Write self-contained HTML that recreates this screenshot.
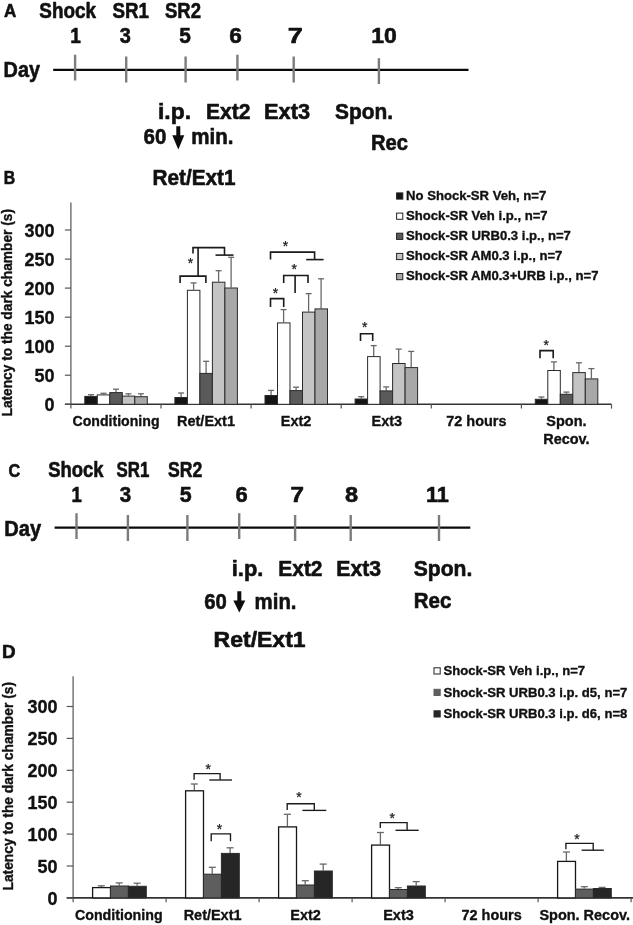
<!DOCTYPE html>
<html><head><meta charset="utf-8"><title>Figure</title>
<style>
html,body{margin:0;padding:0;background:#fff;}
svg{display:block;}
text{font-family:"Liberation Sans",sans-serif;font-weight:bold;stroke:#111;stroke-width:0.35px;stroke-linejoin:round;}
.tl text{stroke-width:0.6px;}
text.st{stroke-width:0.25px;font-weight:normal;}
</style></head><body>
<svg width="633" height="925" viewBox="0 0 633 925">
<rect width="633" height="925" fill="#fff"/>
<g class="tl">
<text x="3.9" y="16.8" font-size="18" textLength="12.3" lengthAdjust="spacingAndGlyphs" fill="#111">A</text>
<text x="39.3" y="17.8" font-size="22" textLength="56.7" lengthAdjust="spacingAndGlyphs" fill="#111">Shock</text>
<text x="112.5" y="17.8" font-size="22" textLength="36.5" lengthAdjust="spacingAndGlyphs" fill="#111">SR1</text>
<text x="165.0" y="17.8" font-size="22" textLength="36.0" lengthAdjust="spacingAndGlyphs" fill="#111">SR2</text>
<text x="70.2" y="42.8" font-size="22" textLength="10.6" lengthAdjust="spacingAndGlyphs" fill="#111">1</text>
<text x="119.7" y="42.8" font-size="22" textLength="11.1" lengthAdjust="spacingAndGlyphs" fill="#111">3</text>
<text x="179.2" y="42.8" font-size="22" textLength="11.6" lengthAdjust="spacingAndGlyphs" fill="#111">5</text>
<text x="229.2" y="42.8" font-size="22" textLength="12.6" lengthAdjust="spacingAndGlyphs" fill="#111">6</text>
<text x="287.7" y="42.8" font-size="22" textLength="15.1" lengthAdjust="spacingAndGlyphs" fill="#111">7</text>
<text x="371.2" y="42.8" font-size="22" textLength="25.6" lengthAdjust="spacingAndGlyphs" fill="#111">10</text>
<text x="3.6" y="77.0" font-size="22" textLength="36.4" lengthAdjust="spacingAndGlyphs" fill="#111">Day</text>
<line x1="53.2" y1="69.8" x2="468.5" y2="69.8" stroke="#0a0a0a" stroke-width="2.2"/>
<line x1="75.1" y1="54.7" x2="75.1" y2="80.5" stroke="#7c7c7c" stroke-width="2.4"/>
<line x1="126.2" y1="56.5" x2="126.2" y2="82.5" stroke="#7c7c7c" stroke-width="2.4"/>
<line x1="185.6" y1="56.5" x2="185.6" y2="82.5" stroke="#7c7c7c" stroke-width="2.4"/>
<line x1="237.4" y1="54.7" x2="237.4" y2="80.5" stroke="#7c7c7c" stroke-width="2.4"/>
<line x1="293.7" y1="56.5" x2="293.7" y2="82.5" stroke="#7c7c7c" stroke-width="2.4"/>
<line x1="378.9" y1="58.2" x2="378.9" y2="84.0" stroke="#7c7c7c" stroke-width="2.4"/>
<text x="158.0" y="118.7" font-size="22" textLength="33.0" lengthAdjust="spacingAndGlyphs" fill="#111">i.p.</text>
<text x="206.0" y="118.7" font-size="22" textLength="44.4" lengthAdjust="spacingAndGlyphs" fill="#111">Ext2</text>
<text x="264.0" y="118.7" font-size="22" textLength="46.0" lengthAdjust="spacingAndGlyphs" fill="#111">Ext3</text>
<text x="335.0" y="118.7" font-size="22" textLength="58.0" lengthAdjust="spacingAndGlyphs" fill="#111">Spon.</text>
<text x="143.5" y="144.0" font-size="22" textLength="22.8" lengthAdjust="spacingAndGlyphs" fill="#111">60</text>
<text x="191.2" y="144.0" font-size="22" textLength="42.2" lengthAdjust="spacingAndGlyphs" fill="#111">min.</text>
<text x="371.0" y="149.7" font-size="22" textLength="37.0" lengthAdjust="spacingAndGlyphs" fill="#111">Rec</text>
<text x="152.5" y="185.0" font-size="22" textLength="83.0" lengthAdjust="spacingAndGlyphs" fill="#111">Ret/Ext1</text>
<text x="3.8" y="184.2" font-size="18" textLength="11.4" lengthAdjust="spacingAndGlyphs" fill="#111">B</text>
<path d="M176.3 126.3 H180.3 V135.2 H184.3 L178.3 149.6 L172.3 135.2 H176.3 Z" fill="#0c0c0c"/>
<text x="8.4" y="476.8" font-size="18" textLength="11.7" lengthAdjust="spacingAndGlyphs" fill="#111">C</text>
<text x="48.2" y="476.9" font-size="22" textLength="55.3" lengthAdjust="spacingAndGlyphs" fill="#111">Shock</text>
<text x="116.5" y="476.9" font-size="22" textLength="32.8" lengthAdjust="spacingAndGlyphs" fill="#111">SR1</text>
<text x="167.9" y="476.9" font-size="22" textLength="34.3" lengthAdjust="spacingAndGlyphs" fill="#111">SR2</text>
<text x="71.5" y="501.5" font-size="22" textLength="10.3" lengthAdjust="spacingAndGlyphs" fill="#111">1</text>
<text x="119.7" y="501.5" font-size="22" textLength="11.4" lengthAdjust="spacingAndGlyphs" fill="#111">3</text>
<text x="179.7" y="501.5" font-size="22" textLength="11.9" lengthAdjust="spacingAndGlyphs" fill="#111">5</text>
<text x="235.4" y="501.5" font-size="22" textLength="12.2" lengthAdjust="spacingAndGlyphs" fill="#111">6</text>
<text x="290.4" y="501.5" font-size="22" textLength="13.5" lengthAdjust="spacingAndGlyphs" fill="#111">7</text>
<text x="344.9" y="501.5" font-size="22" textLength="13.1" lengthAdjust="spacingAndGlyphs" fill="#111">8</text>
<text x="425.9" y="501.5" font-size="22" textLength="22.9" lengthAdjust="spacingAndGlyphs" fill="#111">11</text>
<text x="4.2" y="535.7" font-size="22" textLength="36.9" lengthAdjust="spacingAndGlyphs" fill="#111">Day</text>
<line x1="54.6" y1="527.6" x2="470.3" y2="527.6" stroke="#0a0a0a" stroke-width="2.2"/>
<line x1="76.5" y1="513.2" x2="76.5" y2="539.0" stroke="#7c7c7c" stroke-width="2.4"/>
<line x1="127.9" y1="515.0" x2="127.9" y2="541.0" stroke="#7c7c7c" stroke-width="2.4"/>
<line x1="187.4" y1="515.0" x2="187.4" y2="541.0" stroke="#7c7c7c" stroke-width="2.4"/>
<line x1="239.2" y1="513.2" x2="239.2" y2="539.0" stroke="#7c7c7c" stroke-width="2.4"/>
<line x1="295.1" y1="515.0" x2="295.1" y2="541.0" stroke="#7c7c7c" stroke-width="2.4"/>
<line x1="350.7" y1="515.0" x2="350.7" y2="541.0" stroke="#7c7c7c" stroke-width="2.4"/>
<line x1="439.0" y1="515.0" x2="439.0" y2="541.0" stroke="#7c7c7c" stroke-width="2.4"/>
<text x="231.8" y="575.9" font-size="22" textLength="31.5" lengthAdjust="spacingAndGlyphs" fill="#111">i.p.</text>
<text x="278.3" y="575.9" font-size="22" textLength="44.2" lengthAdjust="spacingAndGlyphs" fill="#111">Ext2</text>
<text x="336.3" y="575.9" font-size="22" textLength="44.8" lengthAdjust="spacingAndGlyphs" fill="#111">Ext3</text>
<text x="413.7" y="575.9" font-size="22" textLength="58.6" lengthAdjust="spacingAndGlyphs" fill="#111">Spon.</text>
<text x="204.2" y="608.7" font-size="22" textLength="22.6" lengthAdjust="spacingAndGlyphs" fill="#111">60</text>
<text x="254.6" y="608.7" font-size="22" textLength="41.9" lengthAdjust="spacingAndGlyphs" fill="#111">min.</text>
<text x="413.7" y="608.0" font-size="22" textLength="37.6" lengthAdjust="spacingAndGlyphs" fill="#111">Rec</text>
<text x="213.6" y="646.6" font-size="22" textLength="92.0" lengthAdjust="spacingAndGlyphs" fill="#111">Ret/Ext1</text>
<text x="2.0" y="657.8" font-size="18" textLength="13.6" lengthAdjust="spacingAndGlyphs" fill="#111">D</text>
<path d="M237.3 591.3 H241.3 V600.5 H245.3 L239.3 612.4 L233.3 600.5 H237.3 Z" fill="#0c0c0c"/>
</g>
<line x1="70.9" y1="202.6" x2="70.9" y2="404.8" stroke="#555" stroke-width="1.2"/>
<line x1="64.9" y1="404.3" x2="611.5" y2="404.3" stroke="#333" stroke-width="1.6"/>
<line x1="64.9" y1="404.3" x2="70.9" y2="404.3" stroke="#555" stroke-width="1.2"/>
<text x="44.5" y="410.9" font-size="17.5" textLength="10.0" lengthAdjust="spacingAndGlyphs" fill="#111">0</text>
<line x1="64.9" y1="375.2" x2="70.9" y2="375.2" stroke="#555" stroke-width="1.2"/>
<text x="34.5" y="381.9" font-size="17.5" textLength="20.0" lengthAdjust="spacingAndGlyphs" fill="#111">50</text>
<line x1="64.9" y1="346.2" x2="70.9" y2="346.2" stroke="#555" stroke-width="1.2"/>
<text x="24.5" y="352.8" font-size="17.5" textLength="30.0" lengthAdjust="spacingAndGlyphs" fill="#111">100</text>
<line x1="64.9" y1="317.2" x2="70.9" y2="317.2" stroke="#555" stroke-width="1.2"/>
<text x="24.5" y="323.8" font-size="17.5" textLength="30.0" lengthAdjust="spacingAndGlyphs" fill="#111">150</text>
<line x1="64.9" y1="288.1" x2="70.9" y2="288.1" stroke="#555" stroke-width="1.2"/>
<text x="24.5" y="294.7" font-size="17.5" textLength="30.0" lengthAdjust="spacingAndGlyphs" fill="#111">200</text>
<line x1="64.9" y1="259.1" x2="70.9" y2="259.1" stroke="#555" stroke-width="1.2"/>
<text x="24.5" y="265.7" font-size="17.5" textLength="30.0" lengthAdjust="spacingAndGlyphs" fill="#111">250</text>
<line x1="64.9" y1="230.0" x2="70.9" y2="230.0" stroke="#555" stroke-width="1.2"/>
<text x="24.5" y="236.6" font-size="17.5" textLength="30.0" lengthAdjust="spacingAndGlyphs" fill="#111">300</text>
<line x1="70.9" y1="404.3" x2="70.9" y2="408.6" stroke="#555" stroke-width="1.2"/>
<line x1="161.0" y1="404.3" x2="161.0" y2="408.6" stroke="#555" stroke-width="1.2"/>
<line x1="251.1" y1="404.3" x2="251.1" y2="408.6" stroke="#555" stroke-width="1.2"/>
<line x1="341.2" y1="404.3" x2="341.2" y2="408.6" stroke="#555" stroke-width="1.2"/>
<line x1="431.3" y1="404.3" x2="431.3" y2="408.6" stroke="#555" stroke-width="1.2"/>
<line x1="521.4" y1="404.3" x2="521.4" y2="408.6" stroke="#555" stroke-width="1.2"/>
<line x1="611.5" y1="404.3" x2="611.5" y2="408.6" stroke="#555" stroke-width="1.2"/>
<line x1="91.0" y1="395.9" x2="91.0" y2="394.7" stroke="#686868" stroke-width="1.3"/>
<line x1="88.0" y1="394.7" x2="94.0" y2="394.7" stroke="#686868" stroke-width="1.3"/>
<rect x="84.8" y="396.4" width="12.5" height="7.9" fill="#151515" stroke="#2a2a2a" stroke-width="1"/>
<line x1="103.5" y1="394.4" x2="103.5" y2="393.3" stroke="#686868" stroke-width="1.3"/>
<line x1="100.5" y1="393.3" x2="106.5" y2="393.3" stroke="#686868" stroke-width="1.3"/>
<rect x="97.3" y="394.9" width="12.5" height="9.4" fill="#ffffff" stroke="#2a2a2a" stroke-width="1"/>
<line x1="116.0" y1="392.1" x2="116.0" y2="389.2" stroke="#686868" stroke-width="1.3"/>
<line x1="113.0" y1="389.2" x2="119.0" y2="389.2" stroke="#686868" stroke-width="1.3"/>
<rect x="109.8" y="392.6" width="12.5" height="11.7" fill="#5a5a5a" stroke="#2a2a2a" stroke-width="1"/>
<line x1="128.4" y1="395.6" x2="128.4" y2="393.8" stroke="#686868" stroke-width="1.3"/>
<line x1="125.4" y1="393.8" x2="131.4" y2="393.8" stroke="#686868" stroke-width="1.3"/>
<rect x="122.3" y="396.1" width="12.5" height="8.2" fill="#c4c4c4" stroke="#2a2a2a" stroke-width="1"/>
<line x1="140.9" y1="396.2" x2="140.9" y2="393.8" stroke="#686868" stroke-width="1.3"/>
<line x1="137.9" y1="393.8" x2="143.9" y2="393.8" stroke="#686868" stroke-width="1.3"/>
<rect x="134.8" y="396.7" width="12.5" height="7.6" fill="#a8a8a8" stroke="#2a2a2a" stroke-width="1"/>
<line x1="181.1" y1="397.0" x2="181.1" y2="393.0" stroke="#686868" stroke-width="1.3"/>
<line x1="178.1" y1="393.0" x2="184.1" y2="393.0" stroke="#686868" stroke-width="1.3"/>
<rect x="174.9" y="397.5" width="12.5" height="6.8" fill="#151515" stroke="#2a2a2a" stroke-width="1"/>
<line x1="193.6" y1="289.8" x2="193.6" y2="282.9" stroke="#686868" stroke-width="1.3"/>
<line x1="190.6" y1="282.9" x2="196.6" y2="282.9" stroke="#686868" stroke-width="1.3"/>
<rect x="187.4" y="290.3" width="12.5" height="114.0" fill="#ffffff" stroke="#2a2a2a" stroke-width="1"/>
<line x1="206.1" y1="372.9" x2="206.1" y2="361.3" stroke="#686868" stroke-width="1.3"/>
<line x1="203.1" y1="361.3" x2="209.1" y2="361.3" stroke="#686868" stroke-width="1.3"/>
<rect x="199.9" y="373.4" width="12.5" height="30.9" fill="#5a5a5a" stroke="#2a2a2a" stroke-width="1"/>
<line x1="218.6" y1="281.7" x2="218.6" y2="270.7" stroke="#686868" stroke-width="1.3"/>
<line x1="215.6" y1="270.7" x2="221.6" y2="270.7" stroke="#686868" stroke-width="1.3"/>
<rect x="212.4" y="282.2" width="12.5" height="122.1" fill="#c4c4c4" stroke="#2a2a2a" stroke-width="1"/>
<line x1="231.1" y1="287.5" x2="231.1" y2="257.3" stroke="#686868" stroke-width="1.3"/>
<line x1="228.1" y1="257.3" x2="234.1" y2="257.3" stroke="#686868" stroke-width="1.3"/>
<rect x="224.9" y="288.0" width="12.5" height="116.3" fill="#a8a8a8" stroke="#2a2a2a" stroke-width="1"/>
<line x1="271.1" y1="395.0" x2="271.1" y2="390.4" stroke="#686868" stroke-width="1.3"/>
<line x1="268.1" y1="390.4" x2="274.1" y2="390.4" stroke="#686868" stroke-width="1.3"/>
<rect x="265.0" y="395.5" width="12.5" height="8.8" fill="#151515" stroke="#2a2a2a" stroke-width="1"/>
<line x1="283.6" y1="322.4" x2="283.6" y2="309.6" stroke="#686868" stroke-width="1.3"/>
<line x1="280.6" y1="309.6" x2="286.6" y2="309.6" stroke="#686868" stroke-width="1.3"/>
<rect x="277.5" y="322.9" width="12.5" height="81.4" fill="#ffffff" stroke="#2a2a2a" stroke-width="1"/>
<line x1="296.1" y1="390.1" x2="296.1" y2="387.2" stroke="#686868" stroke-width="1.3"/>
<line x1="293.1" y1="387.2" x2="299.1" y2="387.2" stroke="#686868" stroke-width="1.3"/>
<rect x="290.0" y="390.6" width="12.5" height="13.7" fill="#5a5a5a" stroke="#2a2a2a" stroke-width="1"/>
<line x1="308.6" y1="311.6" x2="308.6" y2="293.6" stroke="#686868" stroke-width="1.3"/>
<line x1="305.6" y1="293.6" x2="311.6" y2="293.6" stroke="#686868" stroke-width="1.3"/>
<rect x="302.5" y="312.1" width="12.5" height="92.2" fill="#c4c4c4" stroke="#2a2a2a" stroke-width="1"/>
<line x1="321.1" y1="308.4" x2="321.1" y2="278.8" stroke="#686868" stroke-width="1.3"/>
<line x1="318.1" y1="278.8" x2="324.1" y2="278.8" stroke="#686868" stroke-width="1.3"/>
<rect x="315.0" y="308.9" width="12.5" height="95.4" fill="#a8a8a8" stroke="#2a2a2a" stroke-width="1"/>
<line x1="361.2" y1="398.5" x2="361.2" y2="396.7" stroke="#686868" stroke-width="1.3"/>
<line x1="358.2" y1="396.7" x2="364.2" y2="396.7" stroke="#686868" stroke-width="1.3"/>
<rect x="355.1" y="399.0" width="12.5" height="5.3" fill="#151515" stroke="#2a2a2a" stroke-width="1"/>
<line x1="373.7" y1="356.1" x2="373.7" y2="345.6" stroke="#686868" stroke-width="1.3"/>
<line x1="370.7" y1="345.6" x2="376.7" y2="345.6" stroke="#686868" stroke-width="1.3"/>
<rect x="367.6" y="356.6" width="12.5" height="47.7" fill="#ffffff" stroke="#2a2a2a" stroke-width="1"/>
<line x1="386.2" y1="390.4" x2="386.2" y2="386.9" stroke="#686868" stroke-width="1.3"/>
<line x1="383.2" y1="386.9" x2="389.2" y2="386.9" stroke="#686868" stroke-width="1.3"/>
<rect x="380.1" y="390.9" width="12.5" height="13.4" fill="#5a5a5a" stroke="#2a2a2a" stroke-width="1"/>
<line x1="398.7" y1="363.0" x2="398.7" y2="349.1" stroke="#686868" stroke-width="1.3"/>
<line x1="395.7" y1="349.1" x2="401.7" y2="349.1" stroke="#686868" stroke-width="1.3"/>
<rect x="392.6" y="363.5" width="12.5" height="40.8" fill="#c4c4c4" stroke="#2a2a2a" stroke-width="1"/>
<line x1="411.2" y1="367.1" x2="411.2" y2="351.4" stroke="#686868" stroke-width="1.3"/>
<line x1="408.2" y1="351.4" x2="414.2" y2="351.4" stroke="#686868" stroke-width="1.3"/>
<rect x="405.1" y="367.6" width="12.5" height="36.7" fill="#a8a8a8" stroke="#2a2a2a" stroke-width="1"/>
<line x1="541.4" y1="398.8" x2="541.4" y2="397.0" stroke="#686868" stroke-width="1.3"/>
<line x1="538.4" y1="397.0" x2="544.4" y2="397.0" stroke="#686868" stroke-width="1.3"/>
<rect x="535.3" y="399.3" width="12.5" height="5.0" fill="#151515" stroke="#2a2a2a" stroke-width="1"/>
<line x1="553.9" y1="370.0" x2="553.9" y2="361.9" stroke="#686868" stroke-width="1.3"/>
<line x1="550.9" y1="361.9" x2="556.9" y2="361.9" stroke="#686868" stroke-width="1.3"/>
<rect x="547.8" y="370.5" width="12.5" height="33.8" fill="#ffffff" stroke="#2a2a2a" stroke-width="1"/>
<line x1="566.4" y1="393.8" x2="566.4" y2="392.1" stroke="#686868" stroke-width="1.3"/>
<line x1="563.4" y1="392.1" x2="569.4" y2="392.1" stroke="#686868" stroke-width="1.3"/>
<rect x="560.3" y="394.3" width="12.5" height="10.0" fill="#5a5a5a" stroke="#2a2a2a" stroke-width="1"/>
<line x1="578.9" y1="372.1" x2="578.9" y2="362.8" stroke="#686868" stroke-width="1.3"/>
<line x1="575.9" y1="362.8" x2="581.9" y2="362.8" stroke="#686868" stroke-width="1.3"/>
<rect x="572.8" y="372.6" width="12.5" height="31.7" fill="#c4c4c4" stroke="#2a2a2a" stroke-width="1"/>
<line x1="591.4" y1="378.4" x2="591.4" y2="368.6" stroke="#686868" stroke-width="1.3"/>
<line x1="588.4" y1="368.6" x2="594.4" y2="368.6" stroke="#686868" stroke-width="1.3"/>
<rect x="585.3" y="378.9" width="12.5" height="25.4" fill="#a8a8a8" stroke="#2a2a2a" stroke-width="1"/>
<path d="M180.1 283.0 L180.1 276.1 L205.9 276.1 L205.9 283.0" fill="none" stroke="#1a1a1a" stroke-width="1.6"/>
<path d="M198.1 276.1 L198.1 247.6" fill="none" stroke="#1a1a1a" stroke-width="1.6"/>
<path d="M193.0 253.6 L193.0 247.6 L224.5 247.6 L224.5 255.1" fill="none" stroke="#1a1a1a" stroke-width="1.6"/>
<path d="M215.5 255.1 L233.5 255.1" fill="none" stroke="#1a1a1a" stroke-width="1.6"/>
<text x="190.6" y="268.4" font-size="14" text-anchor="middle" fill="#222" class="st">*</text>
<path d="M270.5 307.0 L270.5 298.6 L283.7 298.6 L283.7 307.0" fill="none" stroke="#1a1a1a" stroke-width="1.6"/>
<text x="275.6" y="297.8" font-size="14" text-anchor="middle" fill="#222" class="st">*</text>
<path d="M283.7 283.0 L283.7 275.5 L308.0 275.5 L308.0 283.0" fill="none" stroke="#1a1a1a" stroke-width="1.6"/>
<path d="M295.1 275.5 L295.1 293.0" fill="none" stroke="#1a1a1a" stroke-width="1.6"/>
<text x="294.2" y="273.8" font-size="14" text-anchor="middle" fill="#222" class="st">*</text>
<path d="M270.5 259.6 L270.5 252.1 L314.6 252.1 L314.6 259.6" fill="none" stroke="#1a1a1a" stroke-width="1.6"/>
<path d="M306.2 259.6 L323.6 259.6" fill="none" stroke="#1a1a1a" stroke-width="1.6"/>
<text x="285.5" y="251.0" font-size="14" text-anchor="middle" fill="#222" class="st">*</text>
<path d="M360.5 340.9 L360.5 333.8 L372.7 333.8 L372.7 340.9" fill="none" stroke="#1a1a1a" stroke-width="1.6"/>
<text x="364.7" y="332.4" font-size="14" text-anchor="middle" fill="#222" class="st">*</text>
<path d="M540.0 358.2 L540.0 350.6 L553.2 350.6 L553.2 358.2" fill="none" stroke="#1a1a1a" stroke-width="1.6"/>
<text x="546.3" y="350.0" font-size="14" text-anchor="middle" fill="#222" class="st">*</text>
<text x="116.0" y="426.1" font-size="15" text-anchor="middle" textLength="87.0" lengthAdjust="spacingAndGlyphs" fill="#111">Conditioning</text>
<text x="206.0" y="426.1" font-size="15" text-anchor="middle" textLength="57.9" lengthAdjust="spacingAndGlyphs" fill="#111">Ret/Ext1</text>
<text x="296.1" y="426.1" font-size="15" text-anchor="middle" textLength="30.6" lengthAdjust="spacingAndGlyphs" fill="#111">Ext2</text>
<text x="386.8" y="426.1" font-size="15" text-anchor="middle" textLength="30.6" lengthAdjust="spacingAndGlyphs" fill="#111">Ext3</text>
<text x="476.4" y="426.1" font-size="15" text-anchor="middle" textLength="60.3" lengthAdjust="spacingAndGlyphs" fill="#111">72 hours</text>
<text x="566.4" y="426.1" font-size="15" text-anchor="middle" textLength="40.2" lengthAdjust="spacingAndGlyphs" fill="#111">Spon.</text>
<text x="566.4" y="443.5" font-size="15" text-anchor="middle" textLength="46.4" lengthAdjust="spacingAndGlyphs" fill="#111">Recov.</text>
<text transform="translate(12.3,416.5) rotate(-90)" font-size="13.8" textLength="207.5" lengthAdjust="spacingAndGlyphs" fill="#111">Latency to the dark chamber (s)</text>
<rect x="396.6" y="192.9" width="6.2" height="6.2" fill="#151515" stroke="#222" stroke-width="1"/>
<text x="406.1" y="199.6" font-size="13.1" fill="#111">No Shock-SR Veh, n=7</text>
<rect x="396.6" y="213.1" width="6.2" height="6.2" fill="#fff" stroke="#222" stroke-width="1"/>
<text x="406.1" y="219.8" font-size="13.1" fill="#111">Shock-SR Veh i.p., n=7</text>
<rect x="396.6" y="233.2" width="6.2" height="6.2" fill="#5a5a5a" stroke="#222" stroke-width="1"/>
<text x="406.1" y="239.9" font-size="13.1" fill="#111">Shock-SR URB0.3 i.p., n=7</text>
<rect x="396.6" y="253.4" width="6.2" height="6.2" fill="#c4c4c4" stroke="#222" stroke-width="1"/>
<text x="406.1" y="260.1" font-size="13.1" fill="#111">Shock-SR AM0.3 i.p., n=7</text>
<rect x="396.6" y="273.5" width="6.2" height="6.2" fill="#a8a8a8" stroke="#222" stroke-width="1"/>
<text x="406.1" y="280.2" font-size="13.1" fill="#111">Shock-SR AM0.3+URB i.p., n=7</text>
<line x1="73.1" y1="676.2" x2="73.1" y2="898.4" stroke="#555" stroke-width="1.2"/>
<line x1="66.7" y1="897.9" x2="633.0" y2="897.9" stroke="#333" stroke-width="1.6"/>
<line x1="66.7" y1="897.9" x2="73.1" y2="897.9" stroke="#555" stroke-width="1.2"/>
<text x="47.4" y="904.5" font-size="17.5" textLength="10.0" lengthAdjust="spacingAndGlyphs" fill="#111">0</text>
<line x1="66.7" y1="866.0" x2="73.1" y2="866.0" stroke="#555" stroke-width="1.2"/>
<text x="37.4" y="872.6" font-size="17.5" textLength="20.0" lengthAdjust="spacingAndGlyphs" fill="#111">50</text>
<line x1="66.7" y1="834.1" x2="73.1" y2="834.1" stroke="#555" stroke-width="1.2"/>
<text x="27.4" y="840.7" font-size="17.5" textLength="30.0" lengthAdjust="spacingAndGlyphs" fill="#111">100</text>
<line x1="66.7" y1="802.2" x2="73.1" y2="802.2" stroke="#555" stroke-width="1.2"/>
<text x="27.4" y="808.8" font-size="17.5" textLength="30.0" lengthAdjust="spacingAndGlyphs" fill="#111">150</text>
<line x1="66.7" y1="770.3" x2="73.1" y2="770.3" stroke="#555" stroke-width="1.2"/>
<text x="27.4" y="776.9" font-size="17.5" textLength="30.0" lengthAdjust="spacingAndGlyphs" fill="#111">200</text>
<line x1="66.7" y1="738.4" x2="73.1" y2="738.4" stroke="#555" stroke-width="1.2"/>
<text x="27.4" y="745.0" font-size="17.5" textLength="30.0" lengthAdjust="spacingAndGlyphs" fill="#111">250</text>
<line x1="66.7" y1="706.5" x2="73.1" y2="706.5" stroke="#555" stroke-width="1.2"/>
<text x="27.4" y="713.1" font-size="17.5" textLength="30.0" lengthAdjust="spacingAndGlyphs" fill="#111">300</text>
<line x1="73.1" y1="897.9" x2="73.1" y2="902.2" stroke="#555" stroke-width="1.2"/>
<line x1="166.1" y1="897.9" x2="166.1" y2="902.2" stroke="#555" stroke-width="1.2"/>
<line x1="259.1" y1="897.9" x2="259.1" y2="902.2" stroke="#555" stroke-width="1.2"/>
<line x1="352.1" y1="897.9" x2="352.1" y2="902.2" stroke="#555" stroke-width="1.2"/>
<line x1="445.1" y1="897.9" x2="445.1" y2="902.2" stroke="#555" stroke-width="1.2"/>
<line x1="538.1" y1="897.9" x2="538.1" y2="902.2" stroke="#555" stroke-width="1.2"/>
<line x1="631.1" y1="897.9" x2="631.1" y2="902.2" stroke="#555" stroke-width="1.2"/>
<line x1="101.3" y1="887.1" x2="101.3" y2="885.8" stroke="#686868" stroke-width="1.3"/>
<line x1="97.8" y1="885.8" x2="104.8" y2="885.8" stroke="#686868" stroke-width="1.3"/>
<rect x="92.6" y="887.6" width="17.9" height="10.3" fill="#ffffff" stroke="#161616" stroke-width="1.3"/>
<line x1="119.2" y1="885.5" x2="119.2" y2="882.9" stroke="#686868" stroke-width="1.3"/>
<line x1="115.7" y1="882.9" x2="122.7" y2="882.9" stroke="#686868" stroke-width="1.3"/>
<rect x="110.5" y="886.0" width="17.9" height="11.9" fill="#5e5e5e" stroke="#2a2a2a" stroke-width="1"/>
<line x1="137.1" y1="885.8" x2="137.1" y2="883.2" stroke="#686868" stroke-width="1.3"/>
<line x1="133.6" y1="883.2" x2="140.6" y2="883.2" stroke="#686868" stroke-width="1.3"/>
<rect x="128.4" y="886.3" width="17.9" height="11.6" fill="#262626" stroke="#2a2a2a" stroke-width="1"/>
<line x1="194.3" y1="790.3" x2="194.3" y2="784.0" stroke="#686868" stroke-width="1.3"/>
<line x1="190.8" y1="784.0" x2="197.8" y2="784.0" stroke="#686868" stroke-width="1.3"/>
<rect x="185.6" y="790.8" width="17.9" height="107.1" fill="#ffffff" stroke="#161616" stroke-width="1.3"/>
<line x1="212.2" y1="873.7" x2="212.2" y2="867.3" stroke="#686868" stroke-width="1.3"/>
<line x1="208.8" y1="867.3" x2="215.8" y2="867.3" stroke="#686868" stroke-width="1.3"/>
<rect x="203.5" y="874.2" width="17.9" height="23.7" fill="#5e5e5e" stroke="#2a2a2a" stroke-width="1"/>
<line x1="230.1" y1="852.9" x2="230.1" y2="847.8" stroke="#686868" stroke-width="1.3"/>
<line x1="226.6" y1="847.8" x2="233.6" y2="847.8" stroke="#686868" stroke-width="1.3"/>
<rect x="221.4" y="853.4" width="17.9" height="44.5" fill="#262626" stroke="#2a2a2a" stroke-width="1"/>
<line x1="287.4" y1="826.4" x2="287.4" y2="814.3" stroke="#686868" stroke-width="1.3"/>
<line x1="283.9" y1="814.3" x2="290.9" y2="814.3" stroke="#686868" stroke-width="1.3"/>
<rect x="278.6" y="826.9" width="17.9" height="71.0" fill="#ffffff" stroke="#161616" stroke-width="1.3"/>
<line x1="305.2" y1="884.5" x2="305.2" y2="880.7" stroke="#686868" stroke-width="1.3"/>
<line x1="301.8" y1="880.7" x2="308.8" y2="880.7" stroke="#686868" stroke-width="1.3"/>
<rect x="296.5" y="885.0" width="17.9" height="12.9" fill="#5e5e5e" stroke="#2a2a2a" stroke-width="1"/>
<line x1="323.2" y1="870.5" x2="323.2" y2="864.1" stroke="#686868" stroke-width="1.3"/>
<line x1="319.7" y1="864.1" x2="326.7" y2="864.1" stroke="#686868" stroke-width="1.3"/>
<rect x="314.4" y="871.0" width="17.9" height="26.9" fill="#262626" stroke="#2a2a2a" stroke-width="1"/>
<line x1="380.4" y1="844.6" x2="380.4" y2="832.5" stroke="#686868" stroke-width="1.3"/>
<line x1="376.9" y1="832.5" x2="383.9" y2="832.5" stroke="#686868" stroke-width="1.3"/>
<rect x="371.6" y="845.1" width="17.9" height="52.8" fill="#ffffff" stroke="#161616" stroke-width="1.3"/>
<line x1="398.2" y1="889.0" x2="398.2" y2="887.7" stroke="#686868" stroke-width="1.3"/>
<line x1="394.8" y1="887.7" x2="401.8" y2="887.7" stroke="#686868" stroke-width="1.3"/>
<rect x="389.5" y="889.5" width="17.9" height="8.4" fill="#5e5e5e" stroke="#2a2a2a" stroke-width="1"/>
<line x1="416.2" y1="885.5" x2="416.2" y2="881.6" stroke="#686868" stroke-width="1.3"/>
<line x1="412.7" y1="881.6" x2="419.7" y2="881.6" stroke="#686868" stroke-width="1.3"/>
<rect x="407.4" y="886.0" width="17.9" height="11.9" fill="#262626" stroke="#2a2a2a" stroke-width="1"/>
<line x1="566.4" y1="860.9" x2="566.4" y2="852.0" stroke="#686868" stroke-width="1.3"/>
<line x1="562.9" y1="852.0" x2="569.9" y2="852.0" stroke="#686868" stroke-width="1.3"/>
<rect x="557.6" y="861.4" width="17.9" height="36.5" fill="#ffffff" stroke="#161616" stroke-width="1.3"/>
<line x1="584.2" y1="888.6" x2="584.2" y2="886.7" stroke="#686868" stroke-width="1.3"/>
<line x1="580.8" y1="886.7" x2="587.8" y2="886.7" stroke="#686868" stroke-width="1.3"/>
<rect x="575.5" y="889.1" width="17.9" height="8.8" fill="#5e5e5e" stroke="#2a2a2a" stroke-width="1"/>
<line x1="602.1" y1="888.0" x2="602.1" y2="887.4" stroke="#686868" stroke-width="1.3"/>
<line x1="598.6" y1="887.4" x2="605.6" y2="887.4" stroke="#686868" stroke-width="1.3"/>
<rect x="593.4" y="888.5" width="17.9" height="9.4" fill="#262626" stroke="#2a2a2a" stroke-width="1"/>
<path d="M194.1 779.8 L194.1 773.6 L220.1 773.6 L220.1 779.8" fill="none" stroke="#1a1a1a" stroke-width="1.35"/>
<path d="M209.3 780.0 L232.0 780.0" fill="none" stroke="#1a1a1a" stroke-width="1.35"/>
<text x="208.2" y="773.7" font-size="14" text-anchor="middle" fill="#222" class="st">*</text>
<path d="M211.2 841.2 L211.2 833.9 L230.5 833.9 L230.5 841.2" fill="none" stroke="#1a1a1a" stroke-width="1.35"/>
<text x="219.5" y="833.6" font-size="14" text-anchor="middle" fill="#222" class="st">*</text>
<path d="M287.2 810.0 L287.2 803.7 L314.3 803.7 L314.3 810.3" fill="none" stroke="#1a1a1a" stroke-width="1.35"/>
<path d="M302.4 810.4 L326.3 810.4" fill="none" stroke="#1a1a1a" stroke-width="1.35"/>
<text x="299.1" y="802.4" font-size="14" text-anchor="middle" fill="#222" class="st">*</text>
<path d="M380.3 828.0 L380.3 822.6 L407.1 822.6 L407.1 830.3" fill="none" stroke="#1a1a1a" stroke-width="1.35"/>
<path d="M395.5 830.3 L418.7 830.3" fill="none" stroke="#1a1a1a" stroke-width="1.35"/>
<text x="392.3" y="822.8" font-size="14" text-anchor="middle" fill="#222" class="st">*</text>
<path d="M565.9 849.2 L565.9 843.4 L593.2 843.4 L593.2 850.2" fill="none" stroke="#1a1a1a" stroke-width="1.35"/>
<path d="M581.6 850.2 L603.8 850.2" fill="none" stroke="#1a1a1a" stroke-width="1.35"/>
<text x="577.0" y="843.6" font-size="14" text-anchor="middle" fill="#222" class="st">*</text>
<text x="118.8" y="920.0" font-size="15" text-anchor="middle" textLength="87.6" lengthAdjust="spacingAndGlyphs" fill="#111">Conditioning</text>
<text x="212.6" y="920.0" font-size="15" text-anchor="middle" textLength="57.9" lengthAdjust="spacingAndGlyphs" fill="#111">Ret/Ext1</text>
<text x="305.6" y="920.0" font-size="15" text-anchor="middle" textLength="30.6" lengthAdjust="spacingAndGlyphs" fill="#111">Ext2</text>
<text x="398.5" y="920.0" font-size="15" text-anchor="middle" textLength="30.6" lengthAdjust="spacingAndGlyphs" fill="#111">Ext3</text>
<text x="491.6" y="920.0" font-size="15" text-anchor="middle" textLength="60.3" lengthAdjust="spacingAndGlyphs" fill="#111">72 hours</text>
<text x="584.7" y="920.0" font-size="15" text-anchor="middle" textLength="90.6" lengthAdjust="spacingAndGlyphs" fill="#111">Spon. Recov.</text>
<text transform="translate(12.6,890.5) rotate(-90)" font-size="13.8" textLength="208.5" lengthAdjust="spacingAndGlyphs" fill="#111">Latency to the dark chamber (s)</text>
<rect x="434.0" y="667.8" width="6.2" height="6.2" fill="#fff" stroke="#222" stroke-width="1"/>
<text x="443.6" y="675.1" font-size="13.1" fill="#111">Shock-SR Veh i.p., n=7</text>
<rect x="434.0" y="689.3" width="6.2" height="6.2" fill="#5e5e5e" stroke="#5e5e5e" stroke-width="1"/>
<text x="443.6" y="696.6" font-size="13.1" fill="#111">Shock-SR URB0.3 i.p. d5, n=7</text>
<rect x="434.0" y="710.8" width="6.2" height="6.2" fill="#262626" stroke="#262626" stroke-width="1"/>
<text x="443.6" y="718.1" font-size="13.1" fill="#111">Shock-SR URB0.3 i.p. d6, n=8</text>
</svg>
</body></html>
